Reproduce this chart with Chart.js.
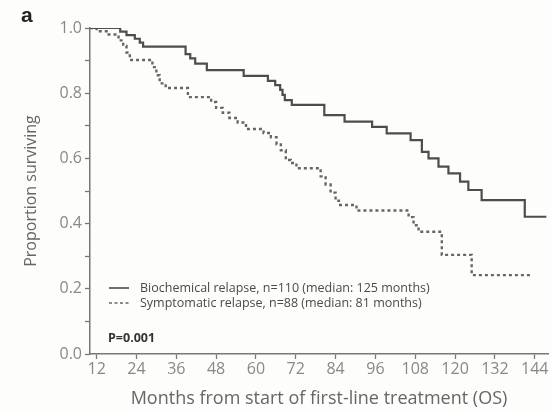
<!DOCTYPE html>
<html>
<head>
<meta charset="utf-8">
<script src="https://cdn.jsdelivr.net/npm/chart.js@4.4.0/dist/chart.umd.min.js"></script>
<style>
  html, body { margin: 0; padding: 0; background: #fdfdfb; }
  #wrap { position: relative; width: 551px; height: 410px; }
  #panel { position: absolute; left: 21px; top: 3px; font: bold 21px "Liberation Sans", Arial, sans-serif; color: #222; }
</style>
</head>
<body>
<div id="wrap">
  <div id="panel">a</div>
  <canvas id="km"></canvas>
</div>
<script>
// Kaplan-Meier curves (month of step, survival after step)
const bioLabel = 'Biochemical relapse, n=110 (median: 125 months)';
const bioMonths = [10, 19.1, 21, 23.5, 25, 26, 27.2, 38.8, 40.2, 41.7, 45.2, 56.3, 63.6, 65.8, 67.3, 68, 68.7, 70.8, 80.6, 86.7, 95, 99.4, 106.6, 110, 112, 115, 118, 121.5, 124, 128, 141, 147.5];
const bioSurv   = [1.0, 0.989, 0.978, 0.967, 0.955, 0.943, 0.943, 0.92, 0.907, 0.891, 0.871, 0.853, 0.838, 0.825, 0.81, 0.795, 0.779, 0.764, 0.733, 0.713, 0.697, 0.677, 0.656, 0.62, 0.6, 0.575, 0.554, 0.529, 0.503, 0.472, 0.421, 0.421];

const sympLabel = 'Symptomatic relapse, n=88 (median: 81 months)';
const sympMonths = [10, 12, 15, 18.6, 20, 21, 22, 28.8, 30, 31, 32.8, 39.5, 46.5, 48, 50, 52, 54.5, 57, 62.3, 64.5, 66.2, 67.5, 69, 70.5, 72.2, 79.5, 81, 82.5, 84, 85, 90.3, 106, 107.5, 109, 116, 125, 142.6];
const sympSurv   = [1.0, 0.99, 0.98, 0.962, 0.945, 0.925, 0.902, 0.88, 0.855, 0.83, 0.816, 0.788, 0.773, 0.755, 0.74, 0.724, 0.71, 0.69, 0.678, 0.665, 0.643, 0.625, 0.595, 0.586, 0.57, 0.545, 0.52, 0.495, 0.47, 0.457, 0.44, 0.42, 0.395, 0.375, 0.304, 0.242, 0.242];

const xTicks = [12, 24, 36, 48, 60, 72, 84, 96, 108, 120, 132, 144];
const pLabel = 'P=0.001';
const xTitle = 'Months from start of first-line treatment (OS)';
const yTitle = 'Proportion surviving';

const toPoints = (months, surv) => months.map((m, i) => ({ x: m, y: surv[i] }));

// legend + p value drawn inside the plot, lower left
const kmLegend = {
  id: 'kmLegend',
  afterDatasetsDraw(chart) {
    const { ctx, chartArea } = chart;
    const left = chartArea.left;
    ctx.save();
    ctx.textBaseline = 'middle';
    chart.data.datasets.forEach((ds, i) => {
      const y = 288 + i * 15;
      ctx.strokeStyle = ds.borderColor;
      ctx.lineWidth = 1.6;
      ctx.setLineDash(ds.borderDash ? [3, 2.5] : []);
      ctx.beginPath();
      ctx.moveTo(left + 19, y);
      ctx.lineTo(left + 39, y);
      ctx.stroke();
      ctx.setLineDash([]);
      ctx.fillStyle = '#4a4a4a';
      ctx.font = '12.5px "Open Sans"';
      ctx.fillText(ds.label, left + 50, y);
    });
    ctx.font = 'bold 12.5px "Open Sans"';
    ctx.fillStyle = '#333';
    ctx.fillText(pLabel, left + 18, 338);
    ctx.restore();
  }
};

const ctx = document.getElementById('km');
new Chart(ctx, {
  type: 'line',
  data: {
    datasets: [
      {
        label: bioLabel,
        data: toPoints(bioMonths, bioSurv),
        stepped: 'before',
        borderColor: '#4d4d4d',
        borderWidth: 2.2,
        pointRadius: 0,
        fill: false
      },
      {
        label: sympLabel,
        data: toPoints(sympMonths, sympSurv),
        stepped: 'before',
        borderColor: '#666',
        borderWidth: 2.4,
        borderDash: [3, 3],
        pointRadius: 0,
        fill: false
      }
    ]
  },
  options: {
    responsive: true,
    maintainAspectRatio: false,
    animation: false,
    devicePixelRatio: 1,
    layout: { padding: { top: 28, right: 3, left: 0, bottom: 0 } },
    plugins: {
      legend: { display: false },
      tooltip: { enabled: false }
    },
    scales: {
      x: {
        type: 'linear',
        min: 10,
        max: 148,
        afterBuildTicks: (scale) => { scale.ticks = xTicks.map(v => ({ value: v })); },
        afterFit: (scale) => { scale.height = 56; },
        border: { display: true, color: '#777', width: 1.5 },
        grid: { drawOnChartArea: false, drawTicks: true, tickLength: 5, tickColor: '#777', tickWidth: 1.3 },
        ticks: {
          color: '#888',
          font: { family: 'Open Sans', size: 16 },
          padding: 1,
          maxRotation: 0,
          autoSkip: false
        },
        title: {
          display: true,
          text: xTitle,
          color: '#666',
          font: { family: 'Open Sans', size: 18 },
          padding: { top: 0, bottom: 0 }
        }
      },
      y: {
        min: 0,
        max: 1,
        afterFit: (scale) => { scale.width = 90; },
        border: { display: true, color: '#777', width: 1.5 },
        grid: { drawOnChartArea: false, drawTicks: true, tickLength: 5, tickColor: '#777', tickWidth: 1.3 },
        ticks: {
          stepSize: 0.1,
          color: '#888',
          font: { family: 'Open Sans', size: 16 },
          padding: 3,
          callback: (v) => {
            const r = Math.round(v * 10);
            return r % 2 === 0 ? (r / 10).toFixed(1) : '';
          }
        },
        title: {
          display: true,
          text: yTitle,
          color: '#666',
          font: { family: 'Open Sans', size: 16 },
          padding: { top: 22, bottom: 0 }
        }
      }
    }
  },
  plugins: [kmLegend]
});
</script>
</body>
</html>
